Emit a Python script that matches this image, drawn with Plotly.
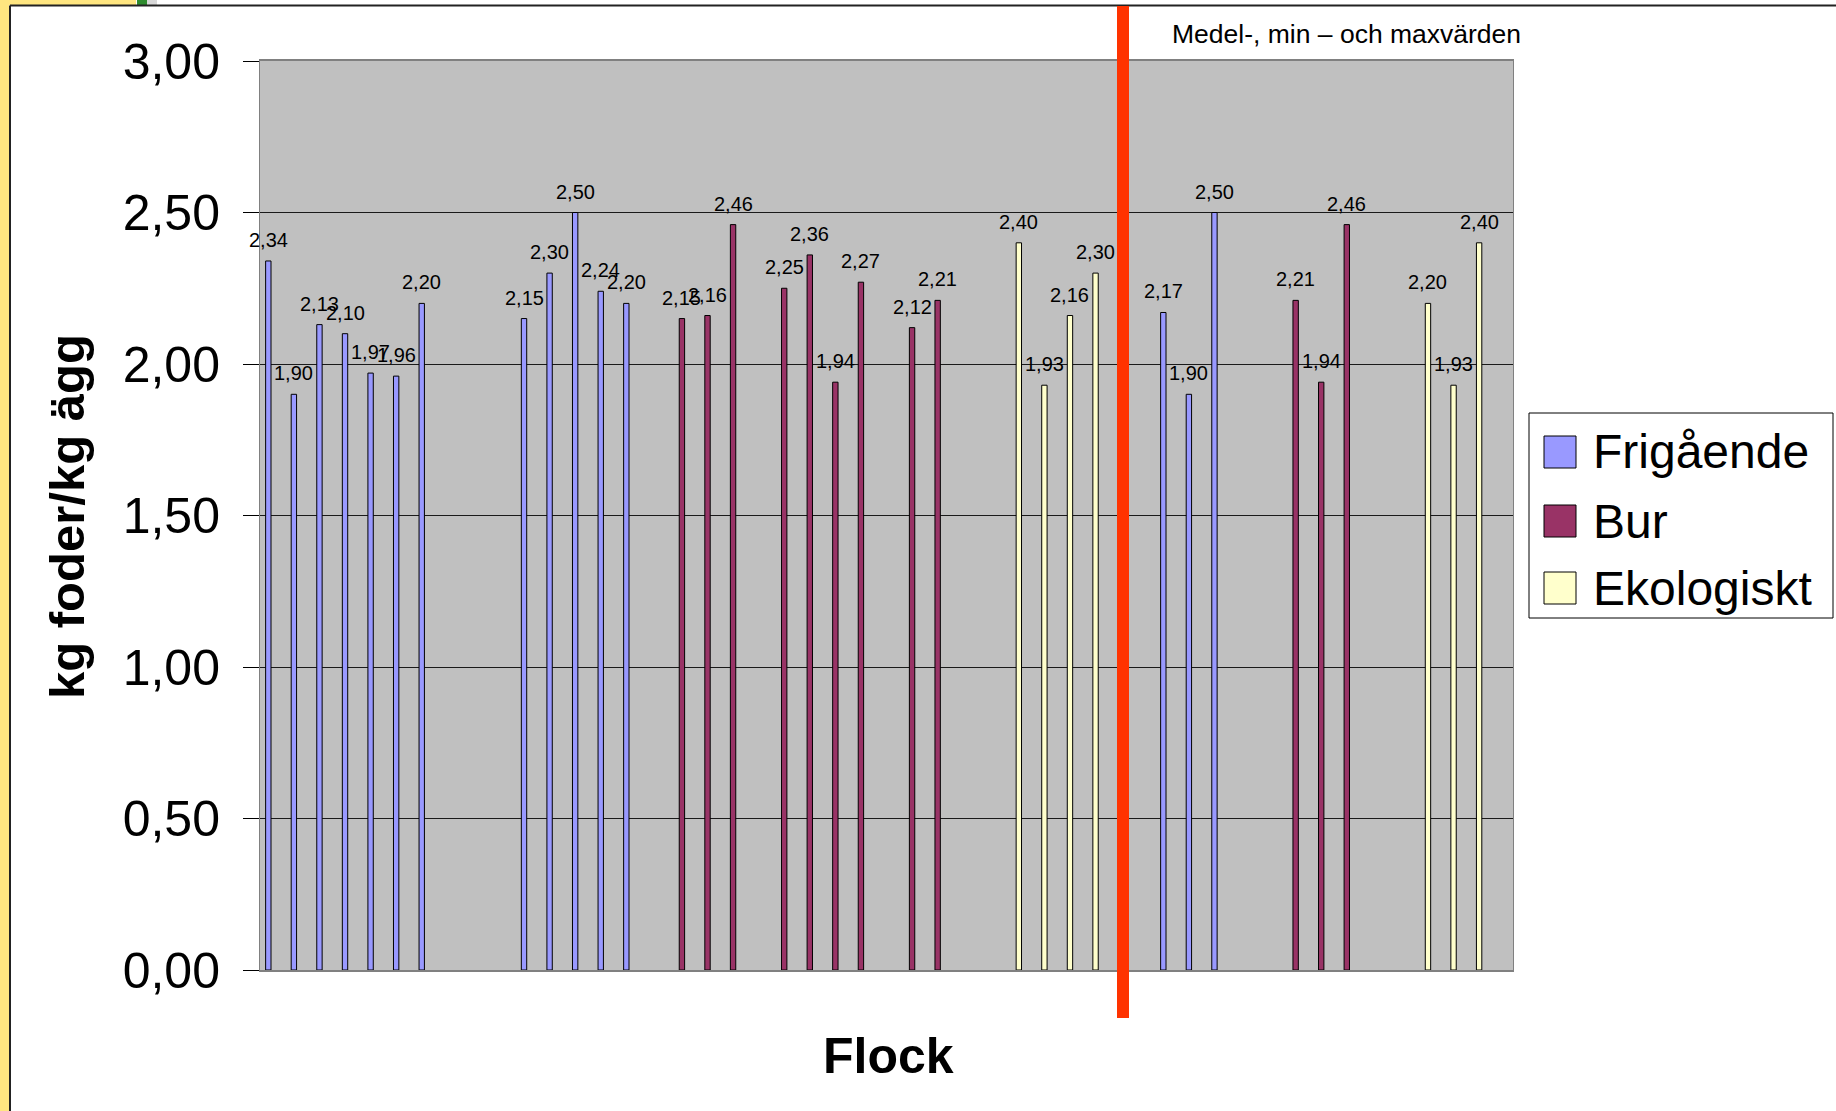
import plotly.graph_objects as go

# ---------------- data ----------------
categories = [str(i) for i in range(1, 50)]  # 49 flock slots (blank slots leave gaps)

series_names = ["Frigående", "Bur", "Ekologiskt"]
series_colors = ["#9999FF", "#993366", "#FFFFCC"]

frig_flocks = ["1", "2", "3", "4", "5", "6", "7", "11", "12", "13", "14", "15", "36", "37", "38"]
frig_values = [2.34, 1.90, 2.13, 2.10, 1.97, 1.96, 2.20, 2.15, 2.30, 2.50, 2.24, 2.20, 2.17, 1.90, 2.50]

bur_flocks = ["17", "18", "19", "21", "22", "23", "24", "26", "27", "41", "42", "43"]
bur_values = [2.15, 2.16, 2.46, 2.25, 2.36, 1.94, 2.27, 2.12, 2.21, 2.21, 1.94, 2.46]

eko_flocks = ["30", "31", "32", "33", "46", "47", "48"]
eko_values = [2.40, 1.93, 2.16, 2.30, 2.20, 1.93, 2.40]

y_title = "kg foder/kg ägg"
x_title = "Flock"
note_text = "Medel-, min – och maxvärden"

# ---------------- layout helpers ----------------
W, H = 1836, 1111
ML, MR, MT, MB = 260, 323, 61, 141
PW, PH = W - ML - MR, H - MT - MB


def px(xp):
    return (xp - ML) / PW


def py(yp):
    return (H - MB - yp) / PH


FONT = "Liberation Sans, Arial, sans-serif"
SLOT = 0.175   # spacing of the three series inside a category
BAR_W = 0.21   # drawn bar width (category units)
CAT_PX = PW / len(categories)


def fmt(v):
    return f"{v:.2f}".replace(".", ",")


annotations = []
fig = go.Figure()
for i, (name, color, xs, ys) in enumerate([
    (series_names[0], series_colors[0], frig_flocks, frig_values),
    (series_names[1], series_colors[1], bur_flocks, bur_values),
    (series_names[2], series_colors[2], eko_flocks, eko_values),
]):
    fig.add_trace(go.Bar(
        name=name, x=xs, y=ys,
        width=BAR_W, offset=(i - 1) * SLOT - BAR_W / 2,
        marker=dict(color=color, line=dict(color="black", width=1)),
        showlegend=False,
    ))
    # data labels above each bar (category position = index in the category list)
    for xv, yv in zip(xs, ys):
        annotations.append(dict(
            text=fmt(yv), x=categories.index(xv), y=yv, xref="x", yref="y",
            xanchor="center", yanchor="bottom", showarrow=False,
            xshift=(i - 1) * SLOT * CAT_PX, yshift=8,
            font=dict(family=FONT, size=20, color="black"),
        ))

shapes = []

# slide frame: yellow strip + black border
shapes.append(dict(type="rect", xref="paper", yref="paper", x0=px(0), x1=px(9), y0=py(H), y1=py(0),
                   fillcolor="#FFE680", line=dict(width=0), layer="below"))
shapes.append(dict(type="rect", xref="paper", yref="paper", x0=px(0), x1=px(136), y0=py(5), y1=py(0),
                   fillcolor="#FFE680", line=dict(width=0), layer="below"))
shapes.append(dict(type="rect", xref="paper", yref="paper", x0=px(137), x1=px(147), y0=py(5), y1=py(0),
                   fillcolor="#2E8B2E", line=dict(width=0), layer="below"))
shapes.append(dict(type="rect", xref="paper", yref="paper", x0=px(147), x1=px(157), y0=py(5), y1=py(0),
                   fillcolor="#D8D8D8", line=dict(width=0), layer="below"))
shapes.append(dict(type="line", xref="paper", yref="paper", x0=px(10), x1=px(W), y0=py(5.5), y1=py(5.5),
                   line=dict(color="#222222", width=2)))
shapes.append(dict(type="line", xref="paper", yref="paper", x0=px(10), x1=px(10), y0=py(5.5), y1=py(H),
                   line=dict(color="#222222", width=2)))

# red separator between flocks and summary values
shapes.append(dict(type="line", xref="paper", yref="paper", x0=px(1123), x1=px(1123), y0=py(1018), y1=py(6),
                   line=dict(color="#FF3300", width=12)))

# manual legend
lx0, lx1, ly0, ly1 = 1529, 1833, 413, 618
shapes.append(dict(type="rect", xref="paper", yref="paper", x0=px(lx0), x1=px(lx1), y0=py(ly1), y1=py(ly0),
                   fillcolor="white", line=dict(color="black", width=1)))
row_centers = [452, 521, 588]
for name, color, yc in zip(series_names, series_colors, row_centers):
    shapes.append(dict(type="rect", xref="paper", yref="paper", x0=px(1544), x1=px(1576),
                       y0=py(yc + 16), y1=py(yc - 16), fillcolor=color, line=dict(color="black", width=1)))
    annotations.append(dict(text=name, xref="paper", yref="paper", x=px(1591), y=py(yc),
                            xanchor="left", yanchor="middle", showarrow=False,
                            font=dict(family=FONT, size=48, color="black")))

# titles and note
annotations.append(dict(text=f"<b>{y_title}</b>", xref="paper", yref="paper", x=px(67), y=py(517),
                        xanchor="center", yanchor="middle", textangle=-90, showarrow=False,
                        font=dict(family=FONT, size=49, color="black")))
annotations.append(dict(text=f"<b>{x_title}</b>", xref="paper", yref="paper", x=px(888), y=py(1056),
                        xanchor="center", yanchor="middle", showarrow=False,
                        font=dict(family=FONT, size=50, color="black")))
annotations.append(dict(text=note_text, xref="paper", yref="paper", x=px(1170), y=py(34),
                        xanchor="left", yanchor="middle", showarrow=False,
                        font=dict(family=FONT, size=26.5, color="black")))

fig.update_layout(
    width=W, height=H,
    margin=dict(l=ML, r=MR, t=MT, b=MB, pad=0),
    paper_bgcolor="white", plot_bgcolor="#C0C0C0",
    barmode="overlay",
    separators=", ",
    shapes=shapes, annotations=annotations,
    showlegend=False,
    font=dict(family=FONT, color="black"),
)
fig.update_xaxes(
    type="category", categoryorder="array", categoryarray=categories,
    range=[-0.5, len(categories) - 0.5],
    showticklabels=False, ticks="", showgrid=False,
    showline=True, linecolor="#808080", linewidth=2, mirror=True, zeroline=False,
)
fig.update_yaxes(
    range=[0, 3], dtick=0.5, tickformat=".2f",
    ticks="outside", ticklen=16, tickcolor="black", tickwidth=1,
    ticklabelstandoff=13,
    tickfont=dict(family=FONT, size=50, color="black"),
    showgrid=True, gridcolor="#1a1a1a", gridwidth=1,
    showline=True, linecolor="#808080", linewidth=1, mirror=True, zeroline=False,
)

fig.write_html("out.html", config={"displayModeBar": False},
               post_script="document.body.style.margin='0px';")
